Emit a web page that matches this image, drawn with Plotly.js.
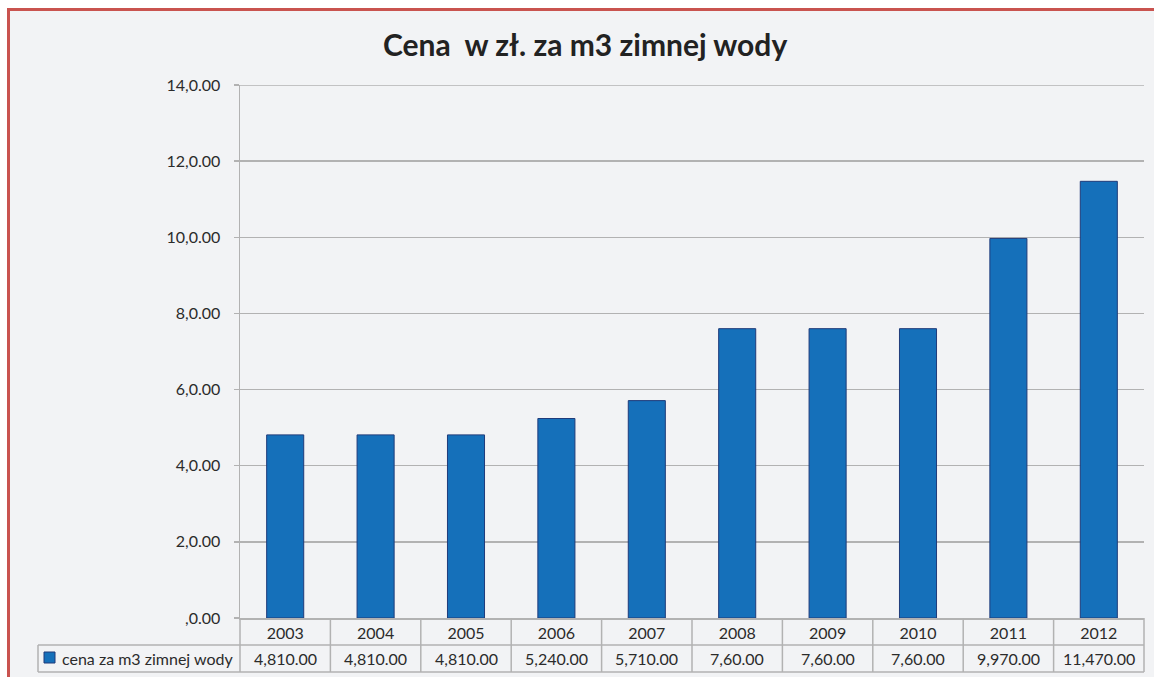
<!DOCTYPE html>
<html>
<head>
<meta charset="utf-8">
<script src="https://cdn.plot.ly/plotly-3.0.1.min.js"></script>
<style>
  html, body { margin: 0; padding: 0; background: #ffffff; overflow: hidden; }
  #frame { position: absolute; left: 7px; top: 8px; width: 1300px; height: 800px;
           border-left: 3px solid #c9534f; border-top: 3px solid #c9534f; background: #f2f3f5; }
  #chart { position: absolute; left: 0; top: 0; width: 1154px; height: 677px; }
</style>
</head>
<body>
<div id="frame"></div>
<div id="chart"></div>
<script>
const categories = ['2003','2004','2005','2006','2007','2008','2009','2010','2011','2012'];
const values = [4.81, 4.81, 4.81, 5.24, 5.71, 7.60, 7.60, 7.60, 9.97, 11.47];
const valueLabels = ['4,810.00','4,810.00','4,810.00','5,240.00','5,710.00','7,60.00','7,60.00','7,60.00','9,970.00','11,470.00'];
const seriesName = 'cena za m3 zimnej wody';
const yTickVals = [0, 2, 4, 6, 8, 10, 12, 14];
const yTickText = [',0.00', '2,0.00', '4,0.00', '6,0.00', '8,0.00', '10,0.00', '12,0.00', '14,0.00'];
const titleText = 'Cena\u00a0 w zł. za m3 zimnej wody';

const FONT = 'Lato, "Open Sans", sans-serif';
const GRID = '#b2b2b2';
const TXT = '#2b2b2b';

const trace = {
  type: 'bar',
  x: categories,
  y: values,
  name: seriesName,
  marker: { color: '#1570ba', line: { color: '#1f3b7a', width: 1 } },
  hoverinfo: 'x+y'
};

const shapes = [];
// top gridline (at the range edge, which Plotly skips)
shapes.push({ type: 'line', xref: 'paper', x0: 0, x1: 1, yref: 'y', y0: yTickVals[yTickVals.length - 1],
              y1: yTickVals[yTickVals.length - 1], line: { color: GRID, width: 1.5 } });
[-27, -54].forEach(function (py) {
  shapes.push({ type: 'line', xref: 'paper', xsizemode: 'pixel', xanchor: 0, x0: -202, x1: 904,
                yref: 'paper', ysizemode: 'pixel', yanchor: 0, y0: py, y1: py,
                line: { color: GRID, width: 1.5 } });
});
shapes.push({ type: 'line', xref: 'paper', xsizemode: 'pixel', xanchor: 0, x0: -202, x1: -202,
              yref: 'paper', ysizemode: 'pixel', yanchor: 0, y0: -27, y1: -54,
              line: { color: GRID, width: 1.5 } });
for (let i = 0; i <= categories.length; i++) {
  shapes.push({ type: 'line', xref: 'paper', x0: i / categories.length, x1: i / categories.length,
                yref: 'paper', ysizemode: 'pixel', yanchor: 0, y0: 0, y1: -54,
                line: { color: GRID, width: 1.5 } });
}
shapes.push({ type: 'rect', xref: 'paper', xsizemode: 'pixel', xanchor: 0, x0: -196, x1: -185,
              yref: 'paper', ysizemode: 'pixel', yanchor: 0, y0: -34, y1: -45,
              fillcolor: '#1570ba', line: { color: '#1f3b7a', width: 1 } });

const annotations = categories.map(function (c, i) {
  return { xref: 'paper', x: (i + 0.5) / categories.length, yref: 'paper', y: 0, yshift: -40.5,
           xanchor: 'center', yanchor: 'middle',
           text: valueLabels[i], showarrow: false, font: { family: FONT, size: 16, color: TXT } };
});
annotations.push({ xref: 'paper', x: 0, xshift: -5, yref: 'paper', y: 0, yshift: -40.5,
                   xanchor: 'right', yanchor: 'middle', text: seriesName, showarrow: false,
                   font: { family: FONT, size: 16, color: TXT } });

const layout = {
  width: 1154, height: 677,
  paper_bgcolor: 'rgba(0,0,0,0)',
  plot_bgcolor: 'rgba(0,0,0,0)',
  margin: { l: 240, r: 10, t: 85, b: 59, pad: 0 },
  showlegend: false,
  bargap: 0.59,
  title: { text: titleText, xref: 'container', x: 0.507, xanchor: 'center',
           yref: 'container', y: 0.933, yanchor: 'middle',
           font: { family: FONT, size: 30, color: '#222222', weight: 'bold' } },
  xaxis: {
    type: 'category',
    range: [-0.5, categories.length - 0.5], autorange: false,
    showgrid: false, zeroline: false,
    showline: true, linecolor: GRID, linewidth: 1.5,
    ticks: '', ticklabelstandoff: 0,
    tickfont: { family: FONT, size: 16, color: TXT },
    fixedrange: true
  },
  yaxis: {
    range: [0, 14], autorange: false,
    tickvals: yTickVals, ticktext: yTickText,
    showgrid: true, gridcolor: GRID, gridwidth: 1.5,
    zeroline: false,
    showline: true, linecolor: GRID, linewidth: 1.5,
    ticks: 'outside', ticklen: 5, tickcolor: GRID, tickwidth: 1.5,
    ticklabelstandoff: 10,
    tickfont: { family: FONT, size: 16, color: TXT },
    fixedrange: true
  },
  shapes: shapes,
  annotations: annotations
};

Plotly.newPlot('chart', [trace], layout, { displayModeBar: false, staticPlot: true });
</script>
</body>
</html>
